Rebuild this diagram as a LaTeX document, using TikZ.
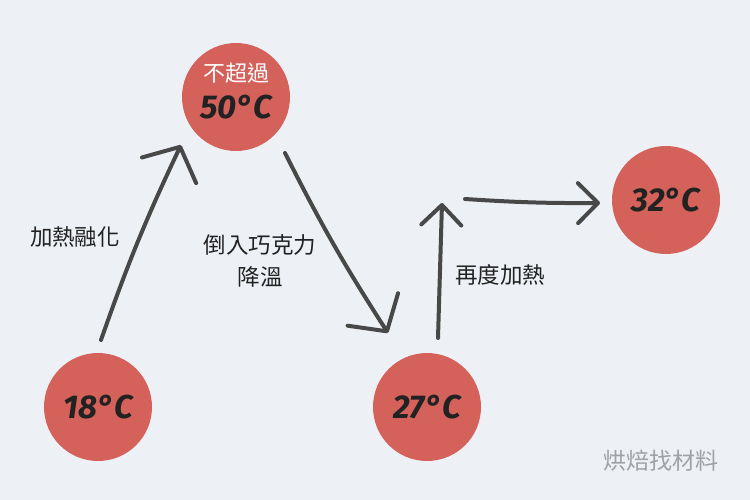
\documentclass[tikz,border=0pt]{standalone}
\usepackage{fontspec}
\usetikzlibrary{arrows.meta}
\newfontfamily\cjk{Noto Sans CJK TC}
\newfontfamily\hand{Fira Sans}
\definecolor{bg}{HTML}{EDF1F6}
\definecolor{dot}{HTML}{D4625B}
\definecolor{ink}{HTML}{484848}
\definecolor{txt}{HTML}{222222}
\definecolor{mark}{HTML}{9EA2A6}

\begin{document}
\begin{tikzpicture}[x=1pt, y=-1pt,
  temp node/.style={circle, fill=dot, minimum size=108pt, inner sep=0pt, text=txt, font=\hand\bfseries\itshape\fontsize{33}{33}\selectfont},
  step text/.style={text=txt, align=center, font=\cjk\fontsize{22.5}{32}\selectfont},
  flow/.style={ink, line width=4pt, line cap=round, -{Straight Barb[length=26pt, width=60pt, line width=4pt, round]}},
  short flow/.style={flow, -{Straight Barb[length=20pt, width=40pt, line width=4pt, round]}}]

  \fill[bg] (0,0) rectangle (750,500);

  % temperatures
  \node[temp node] (t18) at (98,407) {18°C};
  \node[temp node] (t50) at (236,97) {};
  \node[text=white, font=\cjk\fontsize{22}{22}\selectfont] (top50) at ([yshift=24pt]t50.center) {不超過};
  \node[text=txt, font=\hand\bfseries\itshape\fontsize{33}{33}\selectfont] (n50) at ([yshift=-10pt]t50.center) {50°C};
  \node[temp node] (t27) at (427,407) {27°C};
  \node[temp node] (t32) at (666,200) {32°C};

  % free ends of the arrows
  \coordinate (a1s) at (101,340);
  \coordinate (a1e) at (181,145);
  \coordinate (a2s) at (285,153);
  \coordinate (a2e) at (388,333);
  \coordinate (a3s) at (438,338);
  \coordinate (a3e) at (442,203);
  \coordinate (a4s) at (465,199);
  \coordinate (a4e) at (600,203);

  \draw[flow] (a1s) to[bend left=3] (a1e);
  \draw[flow] (a2s) to[bend right=3] (a2e);
  \draw[short flow] (a3s) to (a3e);
  \draw[short flow] (a4s) to[bend right=2] (a4e);

  % steps
  \node[step text] (heat) at (75,237) {加熱融化};
  \node[step text] (cool) at (260,261) {倒入巧克力\\降溫};
  \node[step text] (reheat) at (500,275) {再度加熱};

  \node[text=mark, font=\cjk\fontsize{23}{23}\selectfont] (brand) at (661,461) {烘焙找材料};

\end{tikzpicture}
\end{document}
